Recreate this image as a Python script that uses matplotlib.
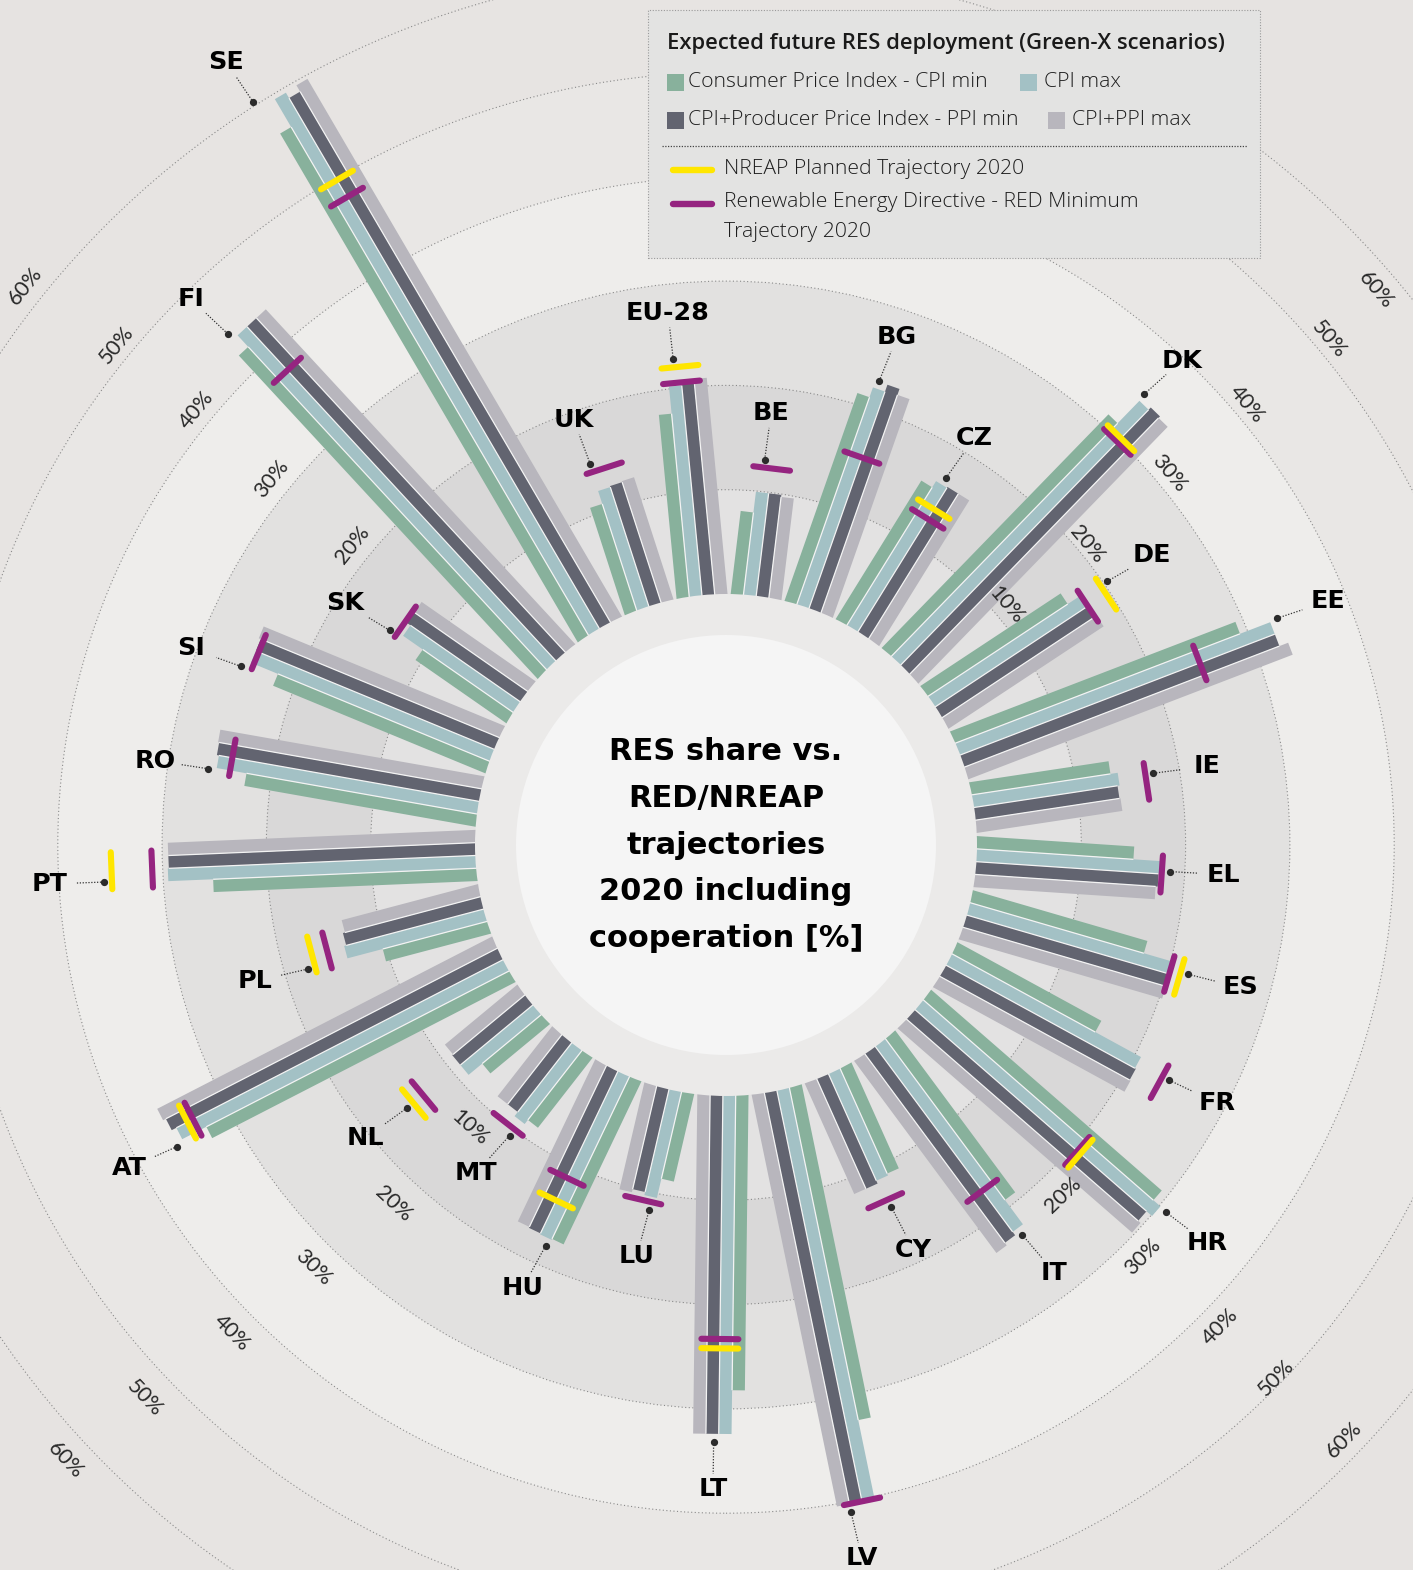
import numpy as np
import matplotlib
matplotlib.use('Agg')
import matplotlib.pyplot as plt
from matplotlib.patches import Polygon, Circle, Rectangle

# ---------------- data ----------------
countries = ['EU-28', 'BE', 'BG', 'CZ', 'DK', 'DE', 'EE', 'IE', 'EL', 'ES', 'FR', 'HR', 'IT', 'CY',
             'LV', 'LT', 'LU', 'HU', 'MT', 'NL', 'AT', 'PL', 'PT', 'RO', 'SI', 'SK', 'FI', 'SE', 'UK']
cpi_min = [17.6, 7.9, 21.0, 15.5, 31.1, 16.0, 29.2, 13.4, 15.0, 17.3, 15.6, 29.2, 19.2, 11.0,
           32.5, 28.2, 8.5, 17.2, 8.4, 7.3, 32.6, 10.3, 25.2, 22.4, 21.9, 10.5, 42.1, 56.4, 10.7]
cpi_max = [20.2, 9.9, 22.0, 16.2, 34.1, 17.5, 32.3, 14.1, 17.6, 20.0, 20.6, 30.1, 22.1, 11.2,
           40.0, 32.4, 10.4, 17.3, 8.9, 9.0, 35.2, 13.8, 29.5, 25.3, 24.7, 12.8, 43.6, 59.5, 12.0]
ppi_min = [20.4, 9.9, 22.7, 16.3, 34.4, 17.5, 32.3, 13.9, 17.5, 20.2, 20.7, 29.4, 22.5, 11.5,
           40.2, 32.4, 10.1, 17.2, 8.4, 9.0, 35.7, 13.6, 29.4, 25.5, 24.7, 13.2, 43.6, 58.9, 12.1]
ppi_max = [20.7, 9.7, 22.1, 16.3, 34.2, 17.7, 33.2, 14.0, 17.3, 20.2, 20.8, 29.7, 22.8, 11.5,
           40.2, 32.4, 10.4, 17.1, 8.4, 8.9, 36.0, 13.4, 29.4, 25.6, 24.9, 13.2, 43.6, 59.6, 12.2]
red_min = [20.5, 12.3, 15.3, 12.7, 29.8, 17.5, 24.6, 16.7, 17.8, 20.2, 23.3, 20.6, 17.2, 13.3,
           40.2, 23.3, 10.9, 11.3, 9.9, 13.6, 33.4, 15.5, 31.0, 24.0, 24.4, 13.4, 37.9, 47.9, 13.9]
nreap = [22.0, None, None, 13.8, 30.3, 19.6, None, None, None, 21.2, None, 21.0, None, None,
         None, 24.2, None, 13.7, None, 14.8, 34.0, 17.0, 34.9, None, None, None, None, 49.8, None]
tick_values = [10, 20, 30, 40, 50, 60]
series_labels = ['Consumer Price Index - CPI min', 'CPI max',
                 'CPI+Producer Price Index - PPI min', 'CPI+PPI max']
line_labels = ['NREAP Planned Trajectory 2020',
               'Renewable Energy Directive - RED Minimum\nTrajectory 2020']
legend_title = 'Expected future RES deployment (Green-X scenarios)'
center_title = 'RES share vs.\nRED/NREAP\ntrajectories\n2020 including\ncooperation [%]'

# ---------------- layout / style ----------------
W, H = 1413, 1570
CX, CY = 726, 845
R0, K = 251.0, 10.43          # radius of 0 % and pixels per percent
START, STEP = -5.5, 360.0 / 29
BAR_COLS = ['#88b19c', '#a3c1c5', '#626470', '#b8b6bd']
YELLOW, PURPLE = '#ffe600', '#952480'
PITCH = 12.8
# sideways shift (px, clockwise positive) of each country's label anchor dot
label_shift = [-6, -8, -9, -6, -14, -10, -14, -7, -3, -5, -6, -12, -6, -3,
               13, 5, -8, -10, -8, 1, -17, -13, -11, -15, -20, -16, -19, -33, -12]

fig = plt.figure(figsize=(W / 100, H / 100), dpi=100)
fig.patch.set_facecolor('#e6e3e1')
ax = fig.add_axes([0, 0, 1, 1])
ax.set_xlim(-CX, W - CX)
ax.set_ylim(-(H - CY), CY)
ax.axis('off')


def rad(v):
    return R0 + K * v


def P(px, py):
    return (px - CX, CY - py)


# background bands
band_cols = {60: '#e7e4e2', 50: '#e9e7e5', 40: '#eeedeb', 30: '#e2e1e0', 20: '#d9d8d8', 10: '#e3e2e2'}
for v in [60, 50, 40, 30, 20, 10]:
    ax.add_patch(Circle((0, 0), rad(v), fc=band_cols[v], ec='none', zorder=1))
for v in tick_values:
    ax.add_patch(Circle((0, 0), rad(v), fill=False, ec='#8a8a8a', lw=0.8,
                        ls=(0, (1, 2.2)), zorder=2))

series = [cpi_min, cpi_max, ppi_min, ppi_max]
offs = [-1.5, -0.5, 0.5, 1.5]
A0 = 200.0
for i, name in enumerate(countries):
    b = np.deg2rad(START + i * STEP)
    u = np.array([np.sin(b), np.cos(b)])
    t = np.array([np.cos(b), -np.sin(b)])
    lens = []
    for s, (vals, col) in enumerate(zip(series, BAR_COLS)):
        d = offs[s] * PITCH
        a1 = rad(vals[i])
        lens.append(a1)
        pts = [A0 * u + (d - PITCH / 2) * t, a1 * u + (d - PITCH / 2) * t,
               a1 * u + (d + PITCH / 2) * t, A0 * u + (d + PITCH / 2) * t]
        ax.add_patch(Polygon(pts, closed=True, fc=col, ec='none', zorder=3))
    # thin white separators
    for s in range(3):
        d = (offs[s] + 0.5) * PITCH
        a1 = min(lens[s], lens[s + 1])
        p0 = A0 * u + d * t
        p1 = a1 * u + d * t
        ax.plot([p0[0], p1[0]], [p0[1], p1[1]], color='#f3f3f3', lw=0.9, zorder=3.5,
                solid_capstyle='butt')
    # markers
    half = 18.5
    for vals, col in [(red_min, PURPLE), (nreap, YELLOW)]:
        v = vals[i]
        if v is None:
            continue
        c = rad(v) * u
        p0, p1 = c - half * t, c + half * t
        ax.plot([p0[0], p1[0]], [p0[1], p1[1]], color=col, lw=4.4,
                solid_capstyle='round', zorder=5)
    # label with leader
    near = [cpi_min[i], cpi_max[i], red_min[i]] + ([nreap[i]] if nreap[i] is not None else [])
    a_dot = rad(max(near)) + 8
    dot = a_dot * u + label_shift[i] * t
    off = np.array([54 * u[0], 47 * u[1]])
    lab = dot + off
    ax.plot(dot[0], dot[1], 'o', ms=4.2, color='#2b2b2b', zorder=6)
    hw = 9.2 * len(name) + 4
    hh = 12.0
    dirn = off / np.linalg.norm(off)
    dist_edge = min(hw / max(abs(dirn[0]), 1e-6), hh / max(abs(dirn[1]), 1e-6))
    end = lab - (dist_edge + 3) * dirn
    ax.plot([dot[0], end[0]], [dot[1], end[1]], color='#333333', lw=0.9,
            ls=(0, (1, 1.3)), zorder=6)
    ax.text(lab[0], lab[1], name, ha='center', va='center', family='DejaVu Sans',
            weight='bold', fontsize=18.3, color='black', zorder=7)

# inner rings
ax.add_patch(Circle((0, 0), R0, fc='#ebeae9', ec='none', zorder=4))
ax.add_patch(Circle((0, 0), 210, fc='#f5f5f5', ec='none', zorder=4.1))
ax.text(0, 0, center_title, ha='center', va='center', family='DejaVu Sans', weight='bold',
        fontsize=22, linespacing=1.78, color='black', zorder=8)

# percentage labels along four spokes: (values, bearings, radial offsets)
spokes = [
    ([10, 20, 30, 40, 50, 60], [49.5, 50.2, 50.0, 49.8, 50.0, 49.5], [14, 10, 15, 14, 14, -22]),
    ([20, 30, 40, 50, 60], [-51.2, -51.1, -50.6, -50.6, -51.4], [19, 20, 17, 16, 20]),
    ([20, 30, 40, 50, 60], [136.1, 134.7, 134.3, 134.1, 133.9], [26, 22, 22, -7, -19]),
    ([10, 20, 30, 40, 50, 60], [222.2, 222.8, 224.3, 225.4, 226.4, 227.0], [26, 30, 27, 26, 30, 26]),
]
for vs, bbs, dr in spokes:
    for v, bb, o in zip(vs, bbs, dr):
        br = np.deg2rad(bb)
        rot = -bb
        while rot > 90:
            rot -= 180
        while rot < -90:
            rot += 180
        r = rad(v) + o
        ax.text(r * np.sin(br), r * np.cos(br), f'{v}%', rotation=rot, rotation_mode='anchor',
                ha='center', va='center', family=['Lato', 'DejaVu Sans'], weight='normal',
                fontsize=15.5, color='#2a2a2a', zorder=5.5)

# ---------------- legend ----------------
x0, y0 = P(648, 258)
ax.add_patch(Rectangle((x0, y0), 612, 248, fc='#e3e3e2', ec='#9a9a9a', lw=0.8,
                       ls=(0, (1, 1.5)), zorder=9))
ax.text(*P(667, 43), legend_title, ha='left', va='center', family=['Open Sans', 'DejaVu Sans'],
        weight='semibold', fontsize=15.8, color='#1a1a1a', zorder=10)
sq = [(667, 82, 688), (1020, 82, 1044), (667, 120, 688), (1048, 120, 1072)]
for (sx, sy, tx), col, lab in zip(sq, BAR_COLS, series_labels):
    lx, ly = P(sx, sy + 8.5)
    ax.add_patch(Rectangle((lx, ly), 17, 17, fc=col, ec='none', zorder=10))
    ax.text(*P(tx, sy), lab, ha='left', va='center', family=['Open Sans', 'DejaVu Sans'],
            weight='light', fontsize=15.2, color='#1e1e1e', zorder=10)
xa, ya = P(662, 146)
xb, _ = P(1247, 146)
ax.plot([xa, xb], [ya, ya], color='#444444', lw=0.9, ls=(0, (1, 1.2)), zorder=10)
for (ly_, ty_), col, lab in zip([(170, 169), (204, 217)], [YELLOW, PURPLE], line_labels):
    pa, pb = P(673, ly_), P(712, ly_)
    ax.plot([pa[0], pb[0]], [pa[1], pb[1]], color=col, lw=4.6, solid_capstyle='round', zorder=10)
    ax.text(*P(724, ty_), lab, ha='left', va='center', family=['Open Sans', 'DejaVu Sans'],
            weight='light', fontsize=15.2, color='#1e1e1e', linespacing=1.7, zorder=10)

fig.savefig('out.png', dpi=100, facecolor=fig.get_facecolor())
